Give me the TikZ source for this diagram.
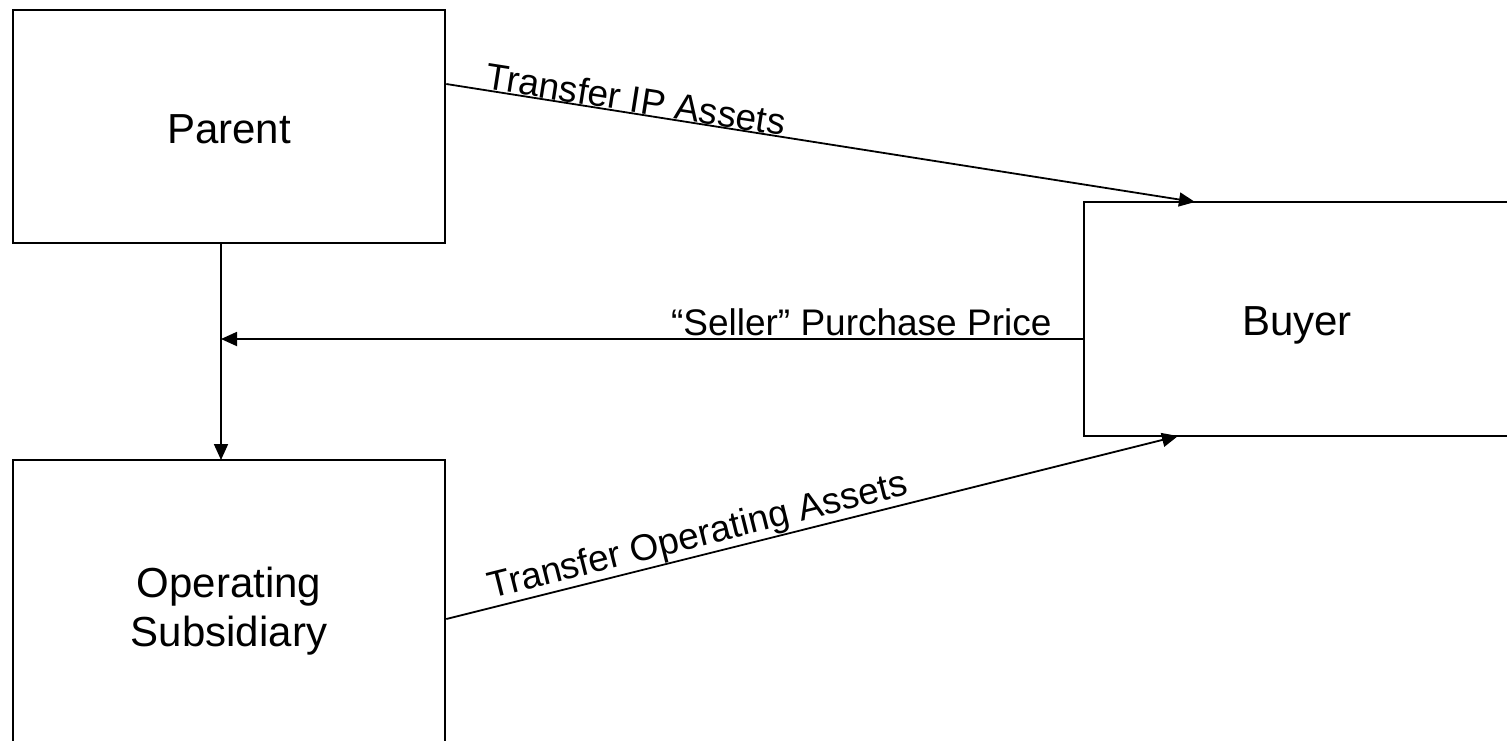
\documentclass[tikz,border=0pt]{standalone}
\usepackage{fontspec}
\setmainfont{Liberation Sans}
\usetikzlibrary{arrows.meta}
\begin{document}
\begin{tikzpicture}[x=1pt,y=-1pt,
  box/.style={draw=black, line width=2.6pt, inner sep=0pt},
  boxtext/.style={align=center, inner sep=0pt, font=\fontsize{42}{49}\selectfont},
  arr/.style={draw=black, line width=1.8pt, -{Triangle[length=16pt,width=14pt]}},
  elabel/.style={font=\fontsize{37}{42}\selectfont, inner sep=1pt}]
\useasboundingbox (0,0) rectangle (1507,740);
\clip (0,0) rectangle (1507,740);
\node[box, minimum width=432pt, minimum height=233pt] (parent) at (229,126.5) {};
\node[box, minimum width=426pt, minimum height=234pt] (buyer) at (1297,319) {};
\node[box, minimum width=432pt, minimum height=300pt] (sub) at (229,610) {};
\node[boxtext] (parentt) at ([yshift=-3pt]parent.center) {Parent};
\node[boxtext] (buyert) at ([yshift=-6pt]buyer.center) {Buyer};
\node[boxtext] (subt) at ([yshift=-1pt]sub.center) {Operating\\Subsidiary};
\coordinate (p1) at (parent.east |- 0,84);
\coordinate (b1) at (1195,202);
\coordinate (s1) at (sub.east |- 0,619);
\coordinate (b2) at (1178,436);
\coordinate (b3) at (buyer.west |- 0,339);
\coordinate (m) at (221,339);
\coordinate (pb) at (221,243);
\coordinate (st) at (221,460);
\draw[arr] (p1) -- node[elabel, sloped, above, inner sep=0pt, pos=0.25] {Transfer IP Assets} (b1);
\draw[arr] (s1) -- node[elabel, sloped, above, inner sep=0pt, pos=0.35] {Transfer Operating Assets} (b2);
\draw[arr] (b3) -- node[elabel, above, inner sep=2pt, pos=0.257] {“Seller” Purchase Price} (m);
\draw[arr] (pb) -- (st);
\end{tikzpicture}
\end{document}
